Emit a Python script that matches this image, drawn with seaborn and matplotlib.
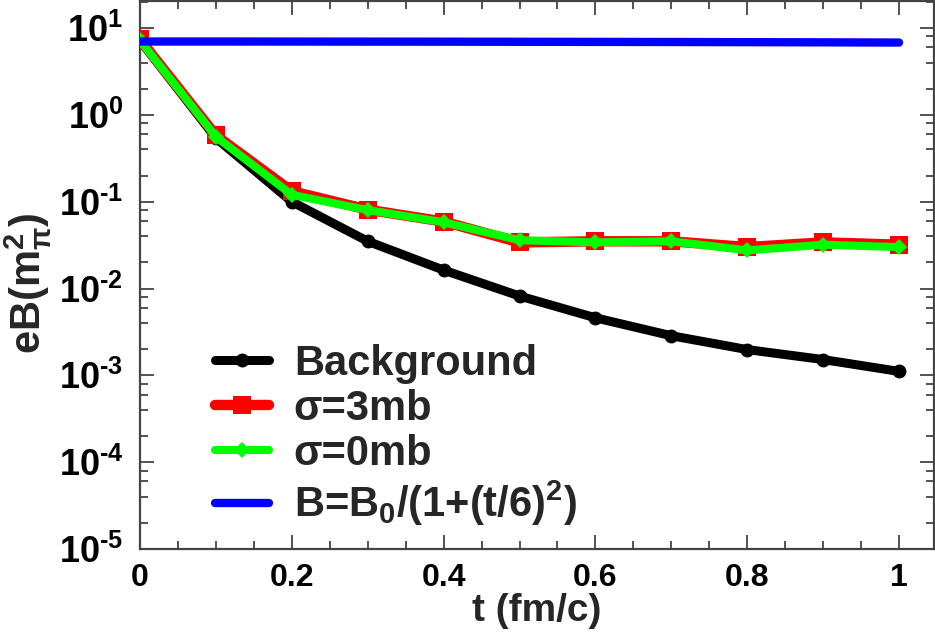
import matplotlib
matplotlib.use("Agg")
import matplotlib.pyplot as plt
import seaborn as sns
import pandas as pd
from matplotlib.ticker import LogLocator, MultipleLocator, FixedLocator, FuncFormatter, FormatStrFormatter
import math

# ---- data ----
t = [0.0, 0.1, 0.2, 0.3, 0.4, 0.5, 0.6, 0.7, 0.8, 0.9, 1.0]
background = [7.2, 0.54, 0.10, 0.035, 0.0163, 0.0082, 0.0046, 0.00286, 0.00198, 0.00152, 0.00111]
sigma3 = [7.4, 0.58, 0.132, 0.081, 0.059, 0.034, 0.035, 0.035, 0.030, 0.034, 0.032]
sigma0 = [7.2, 0.56, 0.12, 0.080, 0.058, 0.036, 0.034, 0.035, 0.0275, 0.032, 0.030]
bfield = [7.0, 7.0, 6.99, 6.98, 6.97, 6.95, 6.93, 6.91, 6.88, 6.85, 6.81]
labels = ["Background", "σ=3mb", "σ=0mb", r"B=B$_0$/(1+(t/6)$^2$)"]
xticks = [0, 0.2, 0.4, 0.6, 0.8, 1.0]

sns.set_style("ticks")
plt.rcParams["font.family"] = ["Liberation Sans", "DejaVu Sans"]
plt.rcParams["font.weight"] = "bold"
plt.rcParams["axes.unicode_minus"] = False
plt.rcParams["mathtext.fontset"] = "custom"
plt.rcParams["mathtext.rm"] = "Liberation Sans:bold"
plt.rcParams["mathtext.it"] = "Liberation Sans:bold"
plt.rcParams["mathtext.bf"] = "Liberation Sans:bold"
plt.rcParams["mathtext.sf"] = "Liberation Sans:bold"

fig = plt.figure(figsize=(9.35, 6.39), dpi=100)
ax = fig.add_axes([140/935, 90/639, 794/935, 548/639])

df_bg = pd.DataFrame({"t": t, "v": background})
df_s3 = pd.DataFrame({"t": t, "v": sigma3})
df_s0 = pd.DataFrame({"t": t, "v": sigma0})
df_b = pd.DataFrame({"t": t, "v": bfield})

sns.lineplot(data=df_bg, x="t", y="v", ax=ax, color="black", lw=6.5, marker="o",
             markersize=10, markeredgewidth=0, label=labels[0], zorder=2)
sns.lineplot(data=df_s3, x="t", y="v", ax=ax, color="#ff0000", lw=7.5, marker="s",
             markersize=12.5, markeredgewidth=0, label=labels[1], zorder=3)
sns.lineplot(data=df_s0, x="t", y="v", ax=ax, color="#00ff00", lw=5.8, marker="D",
             markersize=8, markeredgewidth=0, label=labels[2], zorder=4)
sns.lineplot(data=df_b, x="t", y="v", ax=ax, color="#0000ff", lw=6, label=labels[3], zorder=5)

ax.set_yscale("log")
ax.set_xlim(0, 1.046)
ax.set_ylim(1e-5, 20.5)

ax.xaxis.set_major_locator(FixedLocator(xticks))
ax.xaxis.set_major_formatter(FormatStrFormatter("%g"))
ax.xaxis.set_minor_locator(MultipleLocator(0.05))
ax.yaxis.set_major_locator(LogLocator(base=10, numticks=20))
ax.yaxis.set_minor_locator(LogLocator(base=10, subs=[2, 4, 6, 8], numticks=20))
ax.yaxis.set_major_formatter(FuncFormatter(lambda v, p: r"10$^{\text{%d}}$" % round(math.log10(v))))

spine_c = "#444444"
for s in ax.spines.values():
    s.set_visible(True)
    s.set_color(spine_c)
    s.set_linewidth(1.6)
ax.tick_params(which="both", direction="in", top=True, right=True, color=spine_c,
               width=1.3, labelcolor="black")
ax.tick_params(which="major", length=10)
ax.tick_params(which="minor", length=6)
ax.tick_params(axis="y", which="major", labelsize=26, pad=12)
ax.tick_params(axis="x", which="major", labelsize=23, pad=10)
for lab in ax.get_xticklabels() + ax.get_yticklabels():
    lab.set_fontweight("bold")

ax.set_xlabel("t (fm/c)", fontsize=28, fontweight="bold")
ax.xaxis.set_label_coords(0.5, -0.08)
ax.set_ylabel(r"eB(m$_{\pi}^{2}$)", fontsize=30, fontweight="bold")
ax.yaxis.set_label_coords(-0.108, 0.485)

leg = ax.legend(loc="upper left", bbox_to_anchor=(0.094, 0.374), frameon=False,
                fontsize=30, handlelength=1.3, handletextpad=0.6, labelspacing=0.12,
                borderpad=0, borderaxespad=0)
for txt in leg.get_texts():
    txt.set_fontweight("bold")

fig.savefig("out.png", dpi=100)
